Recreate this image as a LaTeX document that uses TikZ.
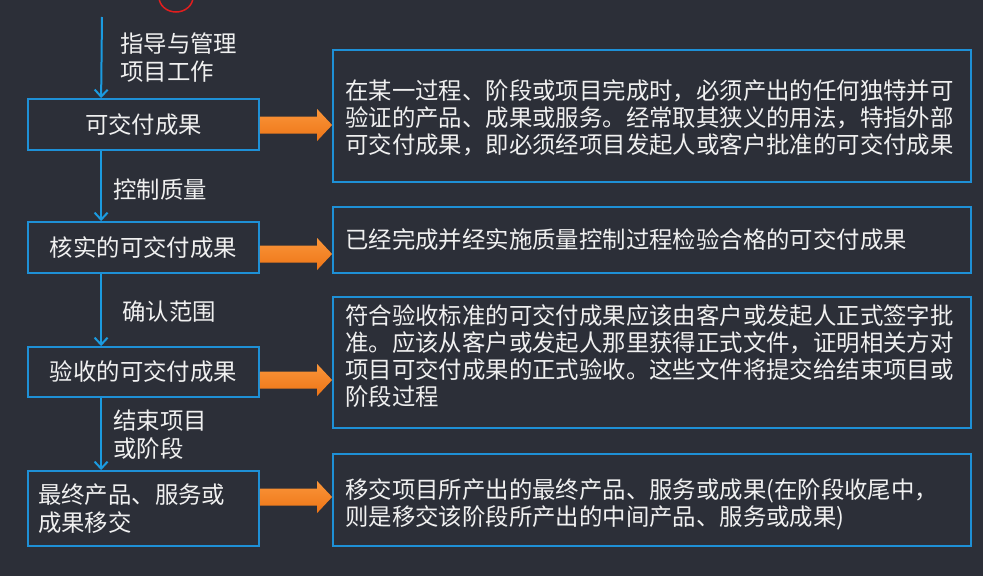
\documentclass[tikz,border=0pt]{standalone}
\usepackage{fontspec}
\setmainfont{Noto Sans CJK SC}
\usetikzlibrary{calc,arrows.meta}
\definecolor{bg}{RGB}{44,47,56}
\definecolor{bord}{RGB}{30,144,214}
\definecolor{arrblue}{RGB}{27,155,224}
\definecolor{orl}{RGB}{250,150,58}
\definecolor{ord}{RGB}{238,116,22}
\definecolor{txt}{RGB}{240,240,240}
\definecolor{redmark}{RGB}{225,30,30}
\newcommand\orarrow[2]{\path[top color=orl, bottom color=ord] let \p1=(#1), \p2=(#2) in (\x1,\y1+8.5pt) -- (\x2-15pt,\y1+8.5pt) -- (\x2-15pt,\y1+16pt) -- (\x2,\y1) -- (\x2-15pt,\y1-16pt) -- (\x2-15pt,\y1-8.5pt) -- (\x1,\y1-8.5pt) -- cycle;}
\begin{document}
\begin{tikzpicture}[x=1pt,y=-1pt,
  box/.style={draw=bord, line width=1.8pt, fill=bg, inner sep=0pt},
  lbl/.style={text=txt, font=\fontsize{23.4}{28}\selectfont, inner sep=0pt, align=left},
  desc/.style={text=txt, font=\fontsize{23.4}{27}\selectfont, inner sep=0pt, align=left, anchor=west},
  flow/.style={draw=arrblue, line width=2pt, -{Straight Barb[length=7pt,width=13pt]}}
]
\useasboundingbox (0,0) rectangle (983,576);
\fill[bg] (0,0) rectangle (983,576);
% red hand mark at top
\draw[redmark, line width=1.5pt] (176,-3) ellipse [x radius=17, y radius=15];

% left boxes
\node[box, lbl, minimum width=231pt, minimum height=51pt] (b1) at (143.5,124.5) {可交付成果};
\node[box, lbl, minimum width=231pt, minimum height=51pt] (b2) at (143.5,247.5) {核实的可交付成果};
\node[box, lbl, minimum width=231pt, minimum height=50pt] (b3) at (143.5,372) {验收的可交付成果};
\node[box, lbl, text width=211pt, inner xsep=10pt, minimum height=75pt] (b4) at (143.5,508.5) {最终产品、服务或\\成果移交};

% right boxes
\node[box, minimum width=638pt, minimum height=132pt] (r1) at (652,116) {};
\node[box, minimum width=638pt, minimum height=66pt] (r2) at (652,240) {};
\node[box, minimum width=638pt, minimum height=131pt] (r3) at (652,362.5) {};
\node[box, minimum width=638pt, minimum height=92pt] (r4) at (652,500) {};

\node[desc] (t1) at (345,118) {在某一过程、阶段或项目完成时，必须产出的任何独特并可\\验证的产品、成果或服务。经常取其狭义的用法，特指外部\\可交付成果，即必须经项目发起人或客户批准的可交付成果};
\node[desc] (t2) at (345,240) {已经完成并经实施质量控制过程检验合格的可交付成果};
\node[desc] (t3) at (345,356) {符合验收标准的可交付成果应该由客户或发起人正式签字批\\准。应该从客户或发起人那里获得正式文件，证明相关方对\\项目可交付成果的正式验收。这些文件将提交给结束项目或\\阶段过程};
\node[desc] (t4) at (345,504) {移交项目所产出的最终产品、服务或成果(在阶段收尾中，\\则是移交该阶段所产出的中间产品、服务或成果)};

% labels on the flow
\node[lbl, anchor=west] (l0) at (120,57.5) {指导与管理\\项目工作};
\node[lbl, anchor=west] (l1) at (113,190) {控制质量};
\node[lbl, anchor=west] (l2) at (122,312) {确认范围};
\node[lbl, anchor=west] (l3) at (113,434.5) {结束项目\\或阶段};

% blue flow arrows
\coordinate (start) at (102,17);
\draw[flow] (start) -- ($(b1.north west)+(74,0)$);
\draw[flow] ($(b1.south west)+(74,0)$) -- ($(b2.north west)+(74,0)$);
\draw[flow] ($(b2.south west)+(74,0)$) -- ($(b3.north west)+(74,0)$);
\draw[flow] ($(b3.south west)+(74,0)$) -- ($(b4.north west)+(74,0)$);

% orange arrows
\coordinate (s1) at ($(b1.east)+(0,0.5)$);  \coordinate (e1) at (s1 -| r1.west);
\coordinate (s2) at ($(b2.east)+(0,6.5)$);  \coordinate (e2) at (s2 -| r2.west);
\coordinate (s3) at ($(b3.east)+(0,8)$);    \coordinate (e3) at (s3 -| r3.west);
\coordinate (s4) at ($(b4.east)+(0,-11.5)$);\coordinate (e4) at (s4 -| r4.west);
\orarrow{s1}{e1}
\orarrow{s2}{e2}
\orarrow{s3}{e3}
\orarrow{s4}{e4}
\end{tikzpicture}
\end{document}
